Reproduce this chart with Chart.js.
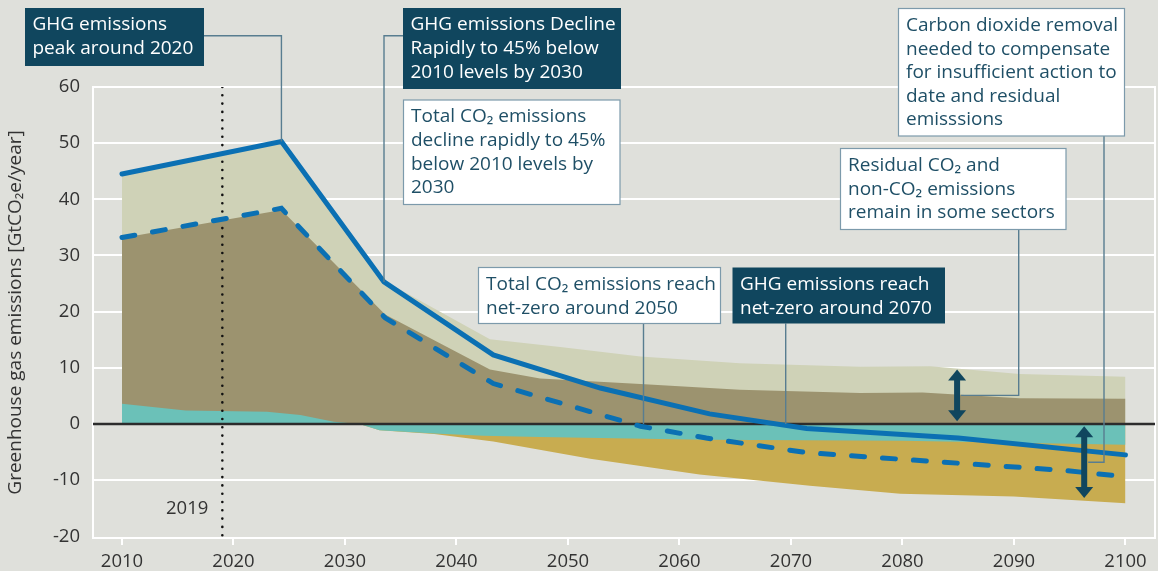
<!DOCTYPE html>
<html><head><meta charset="utf-8">
<script src="https://cdn.jsdelivr.net/npm/chart.js@4.4.1/dist/chart.umd.min.js"></script>
<style>
html,body{margin:0;padding:0;background:#dfe0db;}
#wrap{width:1158px;height:571px;position:relative;}
canvas{display:block;}
</style></head><body>
<div id="wrap"><canvas id="c" width="1158" height="571"></canvas></div>
<script>
// ---- data ----
const xTickYears = [2010, 2020, 2030, 2040, 2050, 2060, 2070, 2080, 2090, 2100];
const yTickValues = [-20, -10, 0, 10, 20, 30, 40, 50, 60];

// Total GHG emissions (solid line)
const ghgYears  = [2010, 2024.3, 2033.5, 2043.3, 2052.9, 2062.7, 2071.4, 2085, 2100];
const ghgValues = [44.5, 50.3, 25.3, 12.3, 6.4, 1.8, -0.8, -2.5, -5.5];

// Total CO2 emissions (dashed line)
const co2Years  = [2010, 2024.3, 2033.6, 2043.3, 2056.5, 2062.4, 2071.4, 2080, 2094.7, 2100];
const co2Values = [33.2, 38.4, 18.9, 7.2, -0.4, -2.5, -5.1, -6.3, -8.3, -9.4];

// Non-CO2 emissions band (light olive, top edge)
const nonCo2Years  = [2010, 2024.3, 2033.5, 2043, 2049.3, 2056.5, 2065.4, 2076.2, 2082.5, 2090.5, 2100];
const nonCo2Values = [44.5, 50.3, 25.5, 15.1, 13.7, 12.0, 10.8, 10.2, 10.3, 8.9, 8.4];

// Gross fossil CO2 band (dark olive, top edge)
const fossilYears  = [2010, 2024.3, 2033.6, 2043, 2047.5, 2056.5, 2065.4, 2076.2, 2081.8, 2090.5, 2100];
const fossilValues = [33.1, 38.1, 19.5, 9.7, 8.1, 7.1, 6.1, 5.5, 5.6, 4.6, 4.5];

// Land-use CO2 band (teal)
const landYears  = [2010, 2015.7, 2023, 2026, 2029, 2031.3, 2033.1, 2038, 2042.4, 2047.5, 2062.4, 2080, 2100];
const landValues = [3.6, 2.4, 2.2, 1.6, 0.4, 0, -1.1, -1.7, -2.1, -2.3, -2.8, -3.0, -3.7];

// Carbon dioxide removal band (gold, bottom edge)
const cdrYears  = [2031.3, 2033.1, 2038, 2043.3, 2052, 2061.8, 2071.7, 2079.8, 2090, 2100];
const cdrValues = [0, -1.1, -1.8, -3.1, -6.2, -9.0, -11.0, -12.4, -12.9, -14.1];

const markerYear = 2019;

// double arrows: [year, from, to]
const arrowYears = [2084.9, 2096.3];
const arrowFrom  = [0.5, -13.2];
const arrowTo    = [9.7, -0.4];

const xMin = 2007.4, xMax = 2102.65, yMin = -20.3, yMax = 60;

function pts(xs, ys) { return xs.map((x, i) => ({ x: x, y: ys[i] })); }

const FONT = '"Open Sans", "Noto Sans", sans-serif';
const NAVY = '#10465e';
const BLUE = '#0b70b3';

const annotations = [
  { x: 25, y: 8, w: 179, h: 58, dark: true,
    lines: ['GHG emissions', 'peak around 2020'],
    link: { from: [204, 35.7], via: 'h', year: ghgYears[1], value: ghgValues[1] } },
  { x: 403, y: 8, w: 218, h: 81, dark: true,
    lines: ['GHG emissions Decline', 'Rapidly to 45% below', '2010 levels by 2030'],
    link: { from: [403, 35.7], via: 'h', year: ghgYears[2], value: ghgValues[2] } },
  { x: 403.5, y: 100, w: 216.5, h: 104.5, dark: false,
    lines: ['Total CO\u2082 emissions', 'decline rapidly to 45%', 'below 2010 levels by', '2030'] },
  { x: 478.5, y: 267.5, w: 242, h: 56, dark: false,
    lines: ['Total CO\u2082 emissions reach', 'net-zero around 2050'],
    link: { from: [643.5, 323.5], via: 'v', year: 2056.8, value: 0 } },
  { x: 732.5, y: 267.5, w: 212.5, h: 56, dark: true,
    lines: ['GHG emissions reach', 'net-zero around 2070'],
    link: { from: [785.7, 323.5], via: 'v', year: 2069.5, value: 0 } },
  { x: 898.5, y: 8.5, w: 226, h: 127.5, dark: false,
    lines: ['Carbon dioxide removal', 'needed to compensate', 'for insufficient action to', 'date and residual', 'emisssions'],
    link: { from: [1104, 136], via: 'vh', arrow: 1 } },
  { x: 840.5, y: 148.5, w: 225.5, h: 81, dark: false,
    lines: ['Residual CO\u2082 and', 'non-CO\u2082 emissions', 'remain in some sectors'],
    link: { from: [1018.7, 229.5], via: 'vh', arrow: 0 } }
];

const framePlugin = {
  id: 'frame',
  beforeDatasetsDraw(chart) {
    const a = chart.chartArea, ctx = chart.ctx;
    ctx.save();
    ctx.strokeStyle = '#ffffff';
    ctx.lineWidth = 2;
    ctx.strokeRect(a.left, a.top, a.right - a.left, a.bottom - a.top);
    ctx.restore();
  }
};

const overlayPlugin = {
  id: 'overlay',
  afterDatasetsDraw(chart) {
    const ctx = chart.ctx, xs = chart.scales.x, ys = chart.scales.y;
    ctx.save();
    // 2019 label
    ctx.font = '18.5px ' + FONT;
    ctx.fillStyle = '#333333';
    ctx.textAlign = 'right';
    ctx.textBaseline = 'middle';
    ctx.fillText(String(markerYear), xs.getPixelForValue(markerYear) - 14, 509);

    // arrows
    ctx.fillStyle = NAVY;
    arrowYears.forEach((yr, i) => {
      const x = xs.getPixelForValue(yr);
      const yb = ys.getPixelForValue(arrowFrom[i]);
      const yt = ys.getPixelForValue(arrowTo[i]);
      const hw = 9, hh = 11, sw = 3;
      ctx.fillRect(x - sw, yt + hh - 1, sw * 2, (yb - yt) - 2 * hh + 2);
      ctx.beginPath();
      ctx.moveTo(x, yt); ctx.lineTo(x + hw, yt + hh); ctx.lineTo(x - hw, yt + hh); ctx.closePath(); ctx.fill();
      ctx.beginPath();
      ctx.moveTo(x, yb); ctx.lineTo(x + hw, yb - hh); ctx.lineTo(x - hw, yb - hh); ctx.closePath(); ctx.fill();
    });

    // connectors
    ctx.strokeStyle = '#587d90';
    ctx.lineWidth = 1.4;
    annotations.forEach(an => {
      const l = an.link; if (!l) return;
      ctx.beginPath();
      ctx.moveTo(l.from[0], l.from[1]);
      if (l.via === 'h') {
        const px = xs.getPixelForValue(l.year), py = ys.getPixelForValue(l.value);
        ctx.lineTo(px, l.from[1]); ctx.lineTo(px, py);
      } else if (l.via === 'v') {
        const py = ys.getPixelForValue(l.value);
        ctx.lineTo(l.from[0], py);
      } else if (l.via === 'vh') {
        const i = l.arrow;
        const px = xs.getPixelForValue(arrowYears[i]) + 4;
        const py = ys.getPixelForValue((arrowFrom[i] + arrowTo[i]) / 2);
        ctx.lineTo(l.from[0], py); ctx.lineTo(px, py);
      }
      ctx.stroke();
    });

    // boxes
    annotations.forEach(an => {
      if (an.dark) {
        ctx.fillStyle = NAVY;
        ctx.fillRect(an.x, an.y, an.w, an.h);
      } else {
        ctx.fillStyle = '#ffffff';
        ctx.fillRect(an.x, an.y, an.w, an.h);
        ctx.strokeStyle = '#7c9aab';
        ctx.lineWidth = 1.2;
        ctx.strokeRect(an.x, an.y, an.w, an.h);
      }
      ctx.fillStyle = an.dark ? '#ffffff' : '#1f4f66';
      ctx.font = '19px ' + FONT;
      ctx.textAlign = 'left';
      ctx.textBaseline = 'middle';
      an.lines.forEach((t, k) => ctx.fillText(t, an.x + 7.5, an.y + 17 + k * 23.6));
    });
    ctx.restore();
  }
};

const areaBase = { type: 'line', borderWidth: 0, borderColor: 'rgba(0,0,0,0)', pointRadius: 0, tension: 0, fill: 'origin' };

new Chart(document.getElementById('c'), {
  type: 'line',
  data: {
    datasets: [
      Object.assign({}, areaBase, { label: 'Non-CO2', data: pts(nonCo2Years, nonCo2Values), backgroundColor: '#cfd2b7', order: 10 }),
      Object.assign({}, areaBase, { label: 'Fossil CO2', data: pts(fossilYears, fossilValues), backgroundColor: '#9c936f', order: 9 }),
      Object.assign({}, areaBase, { label: 'CDR', data: pts(cdrYears, cdrValues), backgroundColor: '#c8ac50', order: 8 }),
      Object.assign({}, areaBase, { label: 'Land CO2', data: pts(landYears, landValues), backgroundColor: '#6bc1b8', order: 7 }),
      { label: 'zero', data: [{ x: xMin, y: 0 }, { x: xMax, y: 0 }], borderColor: '#2c2c2c', borderWidth: 2.5, pointRadius: 0, fill: false, order: 6 },
      { label: '2019', data: [{ x: markerYear, y: yMax }, { x: markerYear, y: yMin }], borderColor: '#111111', borderWidth: 2.6,
        borderDash: [0, 8.3], borderCapStyle: 'round', pointRadius: 0, fill: false, order: 5 },
      { label: 'Total CO2', data: pts(co2Years, co2Values), borderColor: BLUE, borderWidth: 5, borderDash: [13, 18],
        borderCapStyle: 'round', pointRadius: 0, fill: false, tension: 0, order: 4 },
      { label: 'Total GHG', data: pts(ghgYears, ghgValues), borderColor: BLUE, borderWidth: 5, borderCapStyle: 'round',
        borderJoinStyle: 'miter', pointRadius: 0, fill: false, tension: 0, order: 3 }
    ]
  },
  options: {
    responsive: false,
    animation: false,
    devicePixelRatio: 1,
    layout: { padding: { top: 87, right: 3, bottom: 0, left: 0 } },
    plugins: { legend: { display: false }, tooltip: { enabled: false } },
    scales: {
      x: {
        type: 'linear', min: xMin, max: xMax,
        afterBuildTicks: s => { s.ticks = xTickYears.map(v => ({ value: v })); },
        afterFit: s => { s.height = 33; },
        ticks: { callback: v => String(v), color: '#333333', font: { family: FONT, size: 18.5 }, padding: 6, maxRotation: 0, autoSkip: false },
        grid: { display: true, drawOnChartArea: false, drawTicks: true, tickLength: 7, color: '#ffffff', lineWidth: 2 },
        border: { display: true, color: '#ffffff', width: 2 }
      },
      y: {
        type: 'linear', min: yMin, max: yMax,
        afterBuildTicks: s => { s.ticks = yTickValues.map(v => ({ value: v })); },
        afterFit: s => { s.width = 93; },
        ticks: { callback: v => String(v), color: '#333333', font: { family: FONT, size: 18.5 }, padding: 13 },
        grid: { drawTicks: false, lineWidth: 2, color: c => (c.tick && c.tick.value === -20) ? 'rgba(0,0,0,0)' : '#ffffff' },
        border: { display: true, color: '#ffffff', width: 2 },
        title: { display: true, text: 'Greenhouse gas emissions [GtCO\u2082e/year]', color: '#333333',
                 font: { family: FONT, size: 19 }, padding: { top: 4, bottom: 0 } }
      }
    }
  },
  plugins: [framePlugin, overlayPlugin]
});
</script>
</body></html>
